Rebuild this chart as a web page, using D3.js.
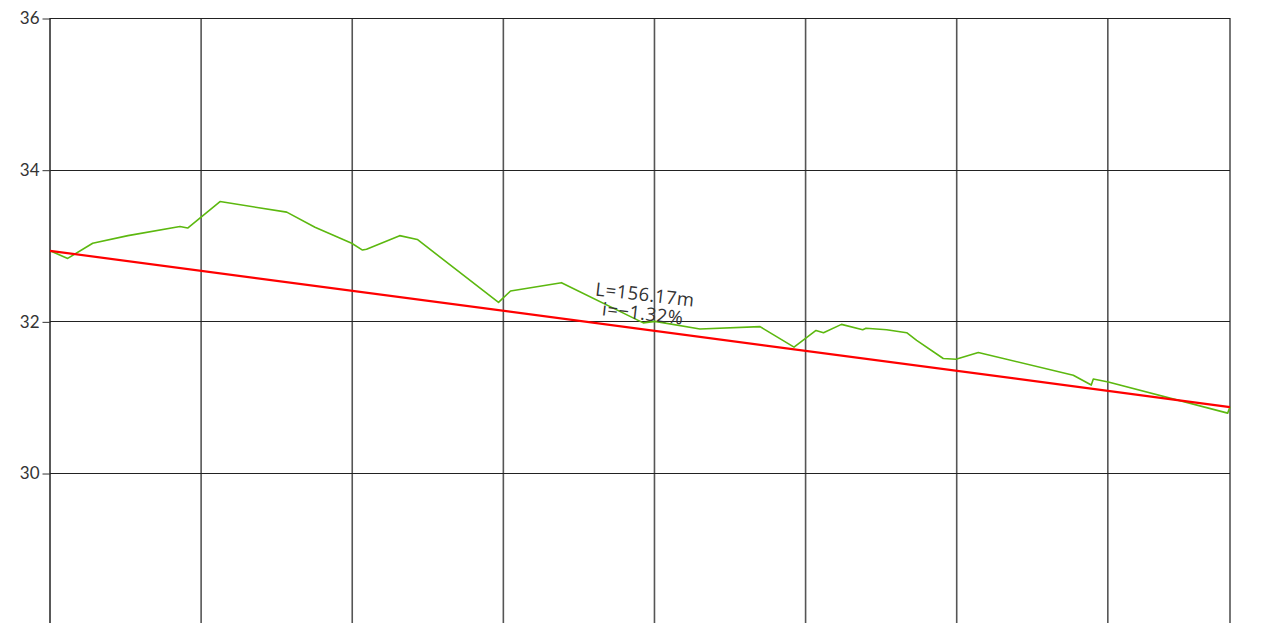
<!DOCTYPE html>
<html><head><meta charset="utf-8">
<script src="https://cdn.jsdelivr.net/npm/d3@7"></script>
<style>html,body{margin:0;padding:0;background:#fff;overflow:hidden}</style>
</head><body>
<svg id="c" width="1285" height="623"></svg>
<script>
// Profile data: distance (m) and elevation (m)
const distances = [0, 2.34, 5.65, 10.32, 17.2, 18.22, 22.5, 31.33, 35.07, 39.93, 41.36, 41.89, 46.28, 48.61, 59.36, 60.95, 67.69, 78.52, 80.07, 86.02, 93.97, 98.47, 101.38, 102.37, 104.75, 107.56, 108.0, 110.73, 113.38, 114.7, 118.22, 119.9, 122.86, 135.43, 137.81, 138.08, 140.06, 155.86, 156.17];
const elevations = [32.93, 32.83, 33.03, 33.13, 33.25, 33.23, 33.58, 33.44, 33.24, 33.03, 32.94, 32.95, 33.13, 33.08, 32.25, 32.40, 32.51, 31.98, 32.00, 31.90, 31.93, 31.66, 31.88, 31.85, 31.96, 31.89, 31.91, 31.89, 31.85, 31.75, 31.51, 31.50, 31.59, 31.29, 31.16, 31.24, 31.20, 30.79, 30.87];
const gradeDistances = [0, 156.17];
const gradeElevations = [32.93, 30.87];
const yTicks = [30, 32, 34, 36];
const xGrid = [0, 20, 40, 60, 80, 100, 120, 140, 156.17];
const labelLines = ["L=156.17m", "i=\u22121.32%"];

const svg = d3.select("#c");
const x = d3.scaleLinear().domain([0, 156.17]).range([50, 1230]);
const y = d3.scaleLinear().domain([28, 36]).range([624.7, 18]);
const bottom = 623;

// vertical grid
svg.append("g").selectAll("line").data(xGrid).join("line")
  .attr("x1", d => x(d)).attr("x2", d => x(d))
  .attr("y1", y(36)).attr("y2", bottom)
  .attr("stroke", (d,i) => i === 0 ? "#222" : "#555")
  .attr("stroke-width", (d,i) => i === 0 ? 1.5 : 1.6);

// horizontal grid
svg.append("g").selectAll("line").data(yTicks).join("line")
  .attr("x1", x(0)).attr("x2", x(156.17))
  .attr("y1", d => Math.round(y(d)) + 0.5).attr("y2", d => Math.round(y(d)) + 0.5)
  .attr("stroke", "#222").attr("stroke-width", 1);

// y axis ticks and labels
const yAxis = d3.axisLeft(y).tickValues(yTicks).tickSize(8).tickPadding(3).tickFormat(d3.format("d"));
const ga = svg.append("g").attr("transform", "translate(50.5,0.5)").call(yAxis);
ga.select(".domain").remove();
ga.selectAll(".tick line").attr("stroke", "#333");
ga.selectAll(".tick text").attr("fill", "#333").attr("font-size", 17)
  .attr("font-family", "Lato, 'Open Sans', sans-serif");

// profile line (green)
const line = d3.line().x(d => x(d[0])).y(d => y(d[1]));
svg.append("path")
  .datum(distances.map((d, i) => [d, elevations[i]]))
  .attr("d", line).attr("fill", "none")
  .attr("stroke", "#5cb80f").attr("stroke-width", 1.6).attr("stroke-linejoin", "round");

// grade line (red)
svg.append("path")
  .datum(gradeDistances.map((d, i) => [d, gradeElevations[i]]))
  .attr("d", line).attr("fill", "none")
  .attr("stroke", "#ff0000").attr("stroke-width", 2.2);

// label
const lab = svg.append("g").attr("transform", "translate(644,304) rotate(6.5)");
lab.selectAll("text").data(labelLines).join("text")
  .attr("x", 0).attr("y", (d, i) => i === 0 ? -3 : 16)
  .attr("text-anchor", "middle")
  .attr("font-family", "'Open Sans', sans-serif")
  .attr("font-size", 18.5).attr("letter-spacing", 0.5).attr("fill", "#333")
  .text(d => d);
</script>
</body></html>
